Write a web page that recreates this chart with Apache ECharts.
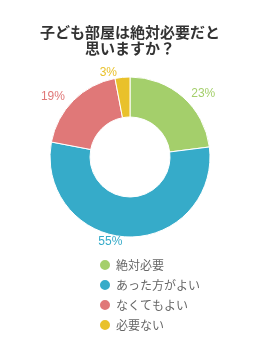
<!DOCTYPE html>
<html><head><meta charset="utf-8">
<script src="https://cdn.jsdelivr.net/npm/echarts@6/dist/echarts.min.js"></script>
<style>html,body{margin:0;padding:0;background:#fff}#c{width:260px;height:340px}</style>
</head><body><div id="c"></div>
<script>
const titleLines = ["子ども部屋は絶対必要だと", "思いますか？"];
const categories = ["絶対必要", "あった方がよい", "なくてもよい", "必要ない"];
const values = [23, 55, 19, 3];
const colors = ["#a4cf6b", "#36abc9", "#e07878", "#e9c12b"];

const chart = echarts.init(document.getElementById('c'));
chart.setOption({
  animation: false,
  color: colors,
  title: {
    text: titleLines.join("\n"),
    left: 'center', top: 19,
    textStyle: {fontSize: 15, fontWeight: 'bold', color: '#333', lineHeight: 16,
      fontFamily: '"Noto Sans CJK JP", sans-serif'}
  },
  legend: {
    orient: 'vertical', left: 98, top: 258, height: 82, padding: 0,
    icon: 'circle', itemWidth: 12, itemHeight: 12, itemGap: 6,
    textStyle: {fontSize: 12, color: '#666', fontFamily: '"Noto Sans CJK JP", sans-serif'},
    data: categories
  },
  series: [{
    type: 'pie',
    center: [130, 157],
    radius: [40, 80],
    startAngle: 90,
    clockwise: true,
    itemStyle: {borderColor: '#fff', borderWidth: 1},
    label: {
      show: true, position: 'outside', formatter: '{c}%',
      fontSize: 12, fontFamily: 'Arial, sans-serif'
    },
    labelLine: {show: false, length: 5, length2: 0},
    data: categories.map((n, i) => ({name: n, value: values[i],
      label: {color: colors[i]}}))
  }]
});
</script></body></html>
